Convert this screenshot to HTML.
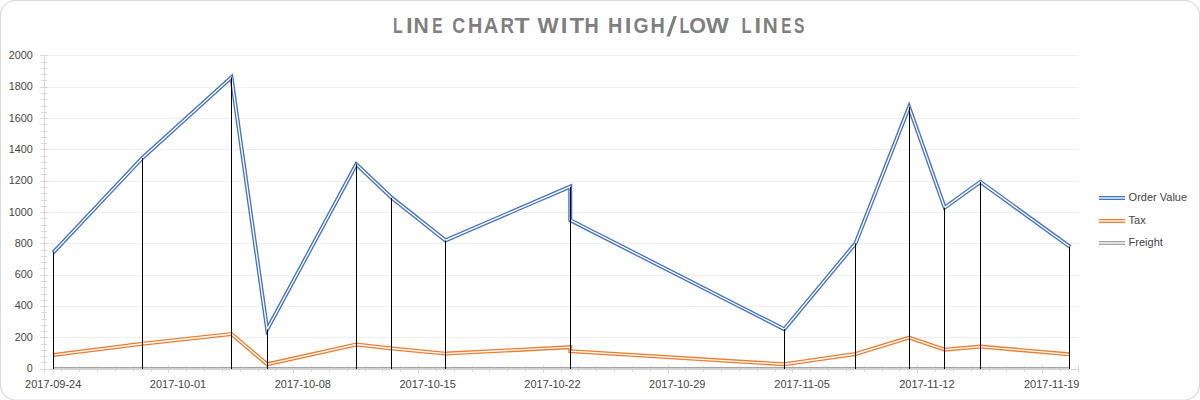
<!DOCTYPE html>
<html><head><meta charset="utf-8"><title>Line Chart with High/Low Lines</title>
<style>html,body{margin:0;padding:0;background:#fff;}body{width:1200px;height:400px;overflow:hidden;font-family:"Liberation Sans",sans-serif;}svg{display:block;}text{font-family:"Liberation Sans",sans-serif;}</style>
</head><body>
<svg width="1200" height="400" viewBox="0 0 1200 400">
<rect x="0" y="0" width="1200" height="400" fill="#fff"/>
<rect x="0.5" y="0.5" width="1199" height="399.5" rx="15" ry="15" fill="#fff" stroke="#D9D9D9" stroke-width="1.2"/>
<g fill="#F0F0F0">
<rect x="45" y="55" width="1034" height="1"/>
<rect x="45" y="87" width="1034" height="1"/>
<rect x="45" y="118" width="1034" height="1"/>
<rect x="45" y="149" width="1034" height="1"/>
<rect x="45" y="181" width="1034" height="1"/>
<rect x="45" y="212" width="1034" height="1"/>
<rect x="45" y="243" width="1034" height="1"/>
<rect x="45" y="275" width="1034" height="1"/>
<rect x="45" y="306" width="1034" height="1"/>
<rect x="45" y="337" width="1034" height="1"/>
</g>
<g fill="#D9D9D9">
<rect x="44" y="55" width="1" height="318"/>
<rect x="40" y="369" width="1039" height="1"/>
<rect x="40" y="55" width="8" height="1"/>
<rect x="41" y="62" width="6" height="1"/>
<rect x="41" y="68" width="6" height="1"/>
<rect x="41" y="74" width="6" height="1"/>
<rect x="41" y="80" width="6" height="1"/>
<rect x="40" y="87" width="8" height="1"/>
<rect x="41" y="93" width="6" height="1"/>
<rect x="41" y="99" width="6" height="1"/>
<rect x="41" y="106" width="6" height="1"/>
<rect x="41" y="112" width="6" height="1"/>
<rect x="40" y="118" width="8" height="1"/>
<rect x="41" y="124" width="6" height="1"/>
<rect x="41" y="131" width="6" height="1"/>
<rect x="41" y="137" width="6" height="1"/>
<rect x="41" y="143" width="6" height="1"/>
<rect x="40" y="149" width="8" height="1"/>
<rect x="41" y="156" width="6" height="1"/>
<rect x="41" y="162" width="6" height="1"/>
<rect x="41" y="168" width="6" height="1"/>
<rect x="41" y="174" width="6" height="1"/>
<rect x="40" y="181" width="8" height="1"/>
<rect x="41" y="187" width="6" height="1"/>
<rect x="41" y="193" width="6" height="1"/>
<rect x="41" y="200" width="6" height="1"/>
<rect x="41" y="206" width="6" height="1"/>
<rect x="40" y="212" width="8" height="1"/>
<rect x="41" y="218" width="6" height="1"/>
<rect x="41" y="225" width="6" height="1"/>
<rect x="41" y="231" width="6" height="1"/>
<rect x="41" y="237" width="6" height="1"/>
<rect x="40" y="243" width="8" height="1"/>
<rect x="41" y="250" width="6" height="1"/>
<rect x="41" y="256" width="6" height="1"/>
<rect x="41" y="262" width="6" height="1"/>
<rect x="41" y="268" width="6" height="1"/>
<rect x="40" y="275" width="8" height="1"/>
<rect x="41" y="281" width="6" height="1"/>
<rect x="41" y="287" width="6" height="1"/>
<rect x="41" y="294" width="6" height="1"/>
<rect x="41" y="300" width="6" height="1"/>
<rect x="40" y="306" width="8" height="1"/>
<rect x="41" y="312" width="6" height="1"/>
<rect x="41" y="319" width="6" height="1"/>
<rect x="41" y="325" width="6" height="1"/>
<rect x="41" y="331" width="6" height="1"/>
<rect x="40" y="337" width="8" height="1"/>
<rect x="41" y="344" width="6" height="1"/>
<rect x="41" y="350" width="6" height="1"/>
<rect x="41" y="356" width="6" height="1"/>
<rect x="41" y="362" width="6" height="1"/>
<rect x="40" y="369" width="8" height="1"/>
<rect x="44" y="365" width="1" height="8"/>
<rect x="61" y="366" width="1" height="6"/>
<rect x="79" y="366" width="1" height="6"/>
<rect x="97" y="366" width="1" height="6"/>
<rect x="115" y="366" width="1" height="6"/>
<rect x="133" y="366" width="1" height="6"/>
<rect x="151" y="366" width="1" height="6"/>
<rect x="168" y="365" width="1" height="8"/>
<rect x="186" y="366" width="1" height="6"/>
<rect x="204" y="366" width="1" height="6"/>
<rect x="222" y="366" width="1" height="6"/>
<rect x="240" y="366" width="1" height="6"/>
<rect x="258" y="366" width="1" height="6"/>
<rect x="275" y="366" width="1" height="6"/>
<rect x="293" y="365" width="1" height="8"/>
<rect x="311" y="366" width="1" height="6"/>
<rect x="329" y="366" width="1" height="6"/>
<rect x="347" y="366" width="1" height="6"/>
<rect x="365" y="366" width="1" height="6"/>
<rect x="382" y="366" width="1" height="6"/>
<rect x="400" y="366" width="1" height="6"/>
<rect x="418" y="365" width="1" height="8"/>
<rect x="436" y="366" width="1" height="6"/>
<rect x="454" y="366" width="1" height="6"/>
<rect x="472" y="366" width="1" height="6"/>
<rect x="489" y="366" width="1" height="6"/>
<rect x="507" y="366" width="1" height="6"/>
<rect x="525" y="366" width="1" height="6"/>
<rect x="543" y="365" width="1" height="8"/>
<rect x="561" y="366" width="1" height="6"/>
<rect x="578" y="366" width="1" height="6"/>
<rect x="596" y="366" width="1" height="6"/>
<rect x="614" y="366" width="1" height="6"/>
<rect x="632" y="366" width="1" height="6"/>
<rect x="650" y="366" width="1" height="6"/>
<rect x="668" y="365" width="1" height="8"/>
<rect x="685" y="366" width="1" height="6"/>
<rect x="703" y="366" width="1" height="6"/>
<rect x="721" y="366" width="1" height="6"/>
<rect x="739" y="366" width="1" height="6"/>
<rect x="757" y="366" width="1" height="6"/>
<rect x="775" y="366" width="1" height="6"/>
<rect x="792" y="365" width="1" height="8"/>
<rect x="810" y="366" width="1" height="6"/>
<rect x="828" y="366" width="1" height="6"/>
<rect x="846" y="366" width="1" height="6"/>
<rect x="864" y="366" width="1" height="6"/>
<rect x="882" y="366" width="1" height="6"/>
<rect x="899" y="366" width="1" height="6"/>
<rect x="917" y="365" width="1" height="8"/>
<rect x="935" y="366" width="1" height="6"/>
<rect x="953" y="366" width="1" height="6"/>
<rect x="971" y="366" width="1" height="6"/>
<rect x="989" y="366" width="1" height="6"/>
<rect x="1006" y="366" width="1" height="6"/>
<rect x="1024" y="366" width="1" height="6"/>
<rect x="1042" y="365" width="1" height="8"/>
<rect x="1060" y="366" width="1" height="6"/>
<rect x="1078" y="366" width="1" height="6"/>
</g>
<rect x="53.5" y="367" width="1016" height="1" fill="#A5A5A5"/>
<rect x="53.5" y="368" width="1016" height="2" fill="#D2D2D2"/>
<path d="M53.20 252.58 L142.35 157.97 L231.50 77.29 L267.16 329.50 L356.31 164.23 L391.97 197.91 L445.46 240.36 L570.27 186.63 L570.27 220.16 L784.23 329.18 L855.55 243.34 L909.04 107.05 L944.70 207.62 L980.36 181.93 L1070.16 246.94" fill="none" stroke="#4472C4" stroke-width="4" stroke-linejoin="miter" stroke-miterlimit="10"/>
<path d="M54.09 251.64 L142.35 157.97 L231.50 77.29 L267.16 329.50 L356.31 164.23 L391.97 197.91 L445.46 240.36 L570.27 186.63 L570.27 220.16 L784.23 329.18 L855.55 243.34 L909.04 107.05 L944.70 207.62 L980.36 181.93 L1070.16 246.94" fill="none" stroke="#fff" stroke-width="1.33" stroke-linejoin="miter" stroke-miterlimit="10"/>
<path d="M53.20 355.09 L142.35 343.73 L231.50 334.05 L267.16 364.32 L356.31 344.49 L391.97 348.53 L445.46 353.62 L570.27 347.17 L570.27 351.20 L784.23 364.28 L855.55 353.98 L909.04 337.62 L944.70 349.69 L980.36 346.61 L1069.51 354.35" fill="none" stroke="#ED7D31" stroke-width="4" stroke-linejoin="miter" stroke-miterlimit="10"/>
<path d="M54.49 354.92 L142.35 343.73 L231.50 334.05 L267.16 364.32 L356.31 344.49 L391.97 348.53 L445.46 353.62 L570.27 347.17 L570.27 351.20 L784.23 364.28 L855.55 353.98 L909.04 337.62 L944.70 349.69 L980.36 346.61 L1069.51 354.35" fill="none" stroke="#fff" stroke-width="1.33" stroke-linejoin="miter" stroke-miterlimit="10"/>
<g fill="#000">
<rect x="53" y="252.58" width="1" height="116.42"/>
<rect x="142" y="157.97" width="1" height="211.03"/>
<rect x="231" y="77.29" width="1" height="291.71"/>
<rect x="267" y="329.50" width="1" height="39.50"/>
<rect x="356" y="164.23" width="1" height="204.77"/>
<rect x="391" y="197.91" width="1" height="171.09"/>
<rect x="445" y="240.36" width="1" height="128.64"/>
<rect x="570" y="186.63" width="1" height="182.37"/>
<rect x="784" y="329.18" width="1" height="39.82"/>
<rect x="855" y="243.34" width="1" height="125.66"/>
<rect x="909" y="107.05" width="1" height="261.95"/>
<rect x="944" y="207.62" width="1" height="161.38"/>
<rect x="980" y="181.93" width="1" height="187.07"/>
<rect x="1069" y="246.47" width="1" height="122.53"/>
</g>
<g font-weight="bold" font-size="21.7" fill="#7F7F7F">
<text transform="translate(393.07,33) scale(0.729,1)">L</text>
<text transform="translate(405.93,33) scale(1.112,1)">I</text>
<text transform="translate(413.48,33) scale(0.972,1)">N</text>
<text transform="translate(432.20,33) scale(0.710,1)">E</text>
<text transform="translate(452.29,33) scale(0.823,1)">C</text>
<text transform="translate(468.01,33) scale(0.914,1)">H</text>
<text transform="translate(483.79,33) scale(0.935,1)">A</text>
<text transform="translate(500.58,33) scale(0.864,1)">R</text>
<text transform="translate(514.55,33) scale(1.140,1)">T</text>
<text transform="translate(537.60,33) scale(1.030,1)">W</text>
<text transform="translate(560.83,33) scale(1.112,1)">I</text>
<text transform="translate(569.46,33) scale(1.109,1)">T</text>
<text transform="translate(584.52,33) scale(0.906,1)">H</text>
<text transform="translate(608.01,33) scale(0.914,1)">H</text>
<text transform="translate(624.73,33) scale(1.112,1)">I</text>
<text transform="translate(633.42,33) scale(0.894,1)">G</text>
<text transform="translate(650.61,33) scale(0.914,1)">H</text>
<text transform="translate(679.54,33) scale(0.752,1)">L</text>
<text transform="translate(689.14,33) scale(0.995,1)">O</text>
<text transform="translate(706.00,33) scale(1.115,1)">W</text>
<text transform="translate(741.43,33) scale(0.761,1)">L</text>
<text transform="translate(754.48,33) scale(1.081,1)">I</text>
<text transform="translate(762.65,33) scale(0.957,1)">N</text>
<text transform="translate(781.15,33) scale(0.700,1)">E</text>
<text transform="translate(793.93,33) scale(0.718,1)">S</text>
<polygon points="666.5,36.5 669.8,36.5 676.9,16 673.6,16"/>
</g>
<g font-size="10.8" fill="#454545" text-anchor="end">
<text x="32.8" y="59">2000</text>
<text x="32.8" y="90">1800</text>
<text x="32.8" y="122">1600</text>
<text x="32.8" y="153">1400</text>
<text x="32.8" y="184">1200</text>
<text x="32.8" y="216">1000</text>
<text x="32.8" y="247">800</text>
<text x="32.8" y="278">600</text>
<text x="32.8" y="309">400</text>
<text x="32.8" y="341">200</text>
<text x="32.8" y="372">0</text>
</g>
<g font-size="11" fill="#454545" text-anchor="middle">
<text x="53.20" y="388">2017-09-24</text>
<text x="178.01" y="388">2017-10-01</text>
<text x="302.82" y="388">2017-10-08</text>
<text x="427.63" y="388">2017-10-15</text>
<text x="552.44" y="388">2017-10-22</text>
<text x="677.25" y="388">2017-10-29</text>
<text x="802.06" y="388">2017-11-05</text>
<text x="926.87" y="388">2017-11-12</text>
<text x="1051.68" y="388">2017-11-19</text>
</g>
<g font-size="11" fill="#454545">
<line x1="1099" y1="198.0" x2="1125" y2="198.0" stroke="#4472C4" stroke-width="4"/>
<line x1="1098" y1="198.0" x2="1126" y2="198.0" stroke="#fff" stroke-width="1.33"/>
<text x="1128.6" y="201">Order Value</text>
<line x1="1099" y1="221.0" x2="1125" y2="221.0" stroke="#ED7D31" stroke-width="4"/>
<line x1="1098" y1="221.0" x2="1126" y2="221.0" stroke="#fff" stroke-width="1.33"/>
<text x="1128.6" y="224">Tax</text>
<line x1="1099" y1="243.0" x2="1125" y2="243.0" stroke="#A5A5A5" stroke-width="4"/>
<line x1="1098" y1="243.0" x2="1126" y2="243.0" stroke="#fff" stroke-width="1.33"/>
<text x="1128.6" y="246">Freight</text>
</g>
</svg>
</body></html>
